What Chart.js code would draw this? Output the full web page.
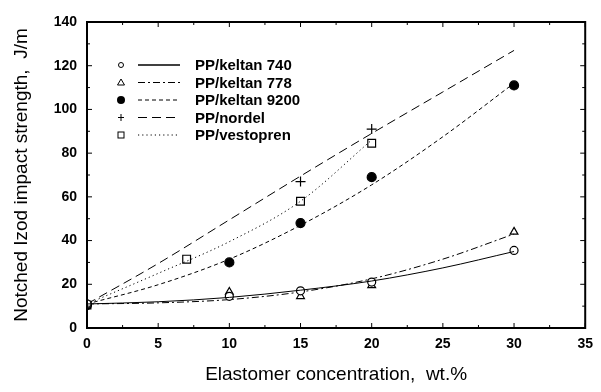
<!DOCTYPE html>
<html>
<head>
<meta charset="utf-8">
<script src="https://cdn.jsdelivr.net/npm/chart.js@4/dist/chart.umd.min.js"></script>
<style>
  body { margin: 0; background: #fff; }
  #wrap { width: 601px; height: 392px; }
</style>
</head>
<body>
<div id="wrap"><canvas id="chart"></canvas></div>
<script>
// fitted curves
const curveX = [0, 5, 10, 15, 20, 25, 30];
const fit740 = [11, 12, 14, 17.3, 21.5, 27.5, 35];
const fit778 = [11, 11.5, 13, 16.5, 22.5, 31.5, 43];
const fit9200 = [11, 19.8, 31.5, 47, 65.5, 87.5, 112];
const fitNordel = [11, 29.5, 49.5, 69.5, 89, 108, 127];
const vestX = [0, 5, 10, 15, 20];
const fitVest = [11, 25, 39.5, 58, 86];

// measured points
const k740X = [0, 10, 15, 20, 30];
const k740Y = [11, 14.5, 17, 21, 35.5];
const k778X = [10, 15, 20, 30];
const k778Y = [16.5, 14.5, 19.5, 44];
const k9200X = [0, 10, 15, 20, 30];
const k9200Y = [10.5, 30, 48, 69, 111];
const nordelX = [15, 20];
const nordelY = [67, 91];
const vestPtX = [0, 7, 15, 20];
const vestPtY = [10.5, 31.5, 58, 84.5];

const xTicks = [0, 5, 10, 15, 20, 25, 30, 35];
const yTicks = [0, 20, 40, 60, 80, 100, 120, 140];

const pts = (xs, ys) => xs.map((x, i) => ({ x: x, y: ys[i] }));

const series = [
  { name: 'PP/keltan 740', marker: 'circle', fill: false, r: 4, dash: [], curve: pts(curveX, fit740), points: pts(k740X, k740Y) },
  { name: 'PP/keltan 778', marker: 'triangle', fill: false, r: 4.5, dash: [7, 3, 2, 3], curve: pts(curveX, fit778), points: pts(k778X, k778Y) },
  { name: 'PP/keltan 9200', marker: 'circle', fill: true, r: 4.5, dash: [4, 3], curve: pts(curveX, fit9200), points: pts(k9200X, k9200Y) },
  { name: 'PP/nordel', marker: 'cross', fill: false, r: 5, dash: [9, 5], curve: pts(curveX, fitNordel), points: pts(nordelX, nordelY) },
  { name: 'PP/vestopren', marker: 'rect', fill: false, r: 5.5, dash: [1.2, 3], curve: pts(vestX, fitVest), points: pts(vestPtX, vestPtY) }
];

const datasets = [];
series.forEach(s => {
  datasets.push({
    type: 'line', data: s.curve, borderColor: '#000', borderWidth: 1,
    borderDash: s.dash, pointRadius: 0, cubicInterpolationMode: 'monotone', fill: false
  });
  datasets.push({
    type: 'scatter', data: s.points, pointStyle: s.marker, pointRadius: s.r,
    pointBackgroundColor: s.fill ? '#000' : '#fff',
    pointBorderColor: '#000', pointBorderWidth: 1.2
  });
});

// frame, inward ticks and the legend box
const decor = {
  id: 'decor',
  afterDatasetsDraw(chart) {
    const { ctx, chartArea: a, scales: { x, y } } = chart;
    ctx.save();
    ctx.strokeStyle = '#000';
    ctx.lineWidth = 1;
    ctx.setLineDash([]);
    for (let v = 0; v <= 35; v += 2.5) {
      const px = x.getPixelForValue(v);
      const len = v % 5 === 0 ? 5 : 3;
      ctx.beginPath();
      ctx.moveTo(px, a.bottom); ctx.lineTo(px, a.bottom - len);
      ctx.moveTo(px, a.top); ctx.lineTo(px, a.top + len);
      ctx.stroke();
    }
    for (let v = 0; v <= 140; v += 10) {
      const py = y.getPixelForValue(v);
      const len = v % 20 === 0 ? 5 : 3;
      ctx.beginPath();
      ctx.moveTo(a.left, py); ctx.lineTo(a.left + len, py);
      ctx.moveTo(a.right, py); ctx.lineTo(a.right - len, py);
      ctx.stroke();
    }
    ctx.lineWidth = 2;
    ctx.strokeRect(a.left, a.top, a.right - a.left, a.bottom - a.top);

    // legend
    ctx.font = 'bold 15px "Liberation Sans", Arial, sans-serif';
    ctx.textBaseline = 'middle';
    ctx.fillStyle = '#000';
    series.forEach((s, i) => {
      const ly = 65 + i * 17.5;
      const mx = 121;
      ctx.lineWidth = 1;
      ctx.setLineDash([]);
      ctx.beginPath();
      if (s.marker === 'circle') {
        ctx.arc(mx, ly, s.fill ? 4 : 2.5, 0, Math.PI * 2);
        if (s.fill) ctx.fill(); else ctx.stroke();
      } else if (s.marker === 'triangle') {
        ctx.moveTo(mx, ly - 3.5); ctx.lineTo(mx + 3.5, ly + 2.5); ctx.lineTo(mx - 3.5, ly + 2.5); ctx.closePath();
        ctx.stroke();
      } else if (s.marker === 'cross') {
        ctx.moveTo(mx, ly - 3.5); ctx.lineTo(mx, ly + 3.5);
        ctx.moveTo(mx - 3, ly); ctx.lineTo(mx + 3, ly);
        ctx.stroke();
      } else {
        ctx.strokeRect(mx - 3, ly - 3, 6, 6);
      }
      ctx.beginPath();
      ctx.lineWidth = i === 0 ? 1.6 : 1;
      ctx.setLineDash(s.dash);
      ctx.moveTo(138, ly); ctx.lineTo(180, ly);
      ctx.stroke();
      ctx.setLineDash([]);
      ctx.fillText(s.name, 195, ly + 1);
    });
    ctx.restore();
  }
};

new Chart(document.getElementById('chart'), {
  data: { datasets: datasets },
  options: {
    responsive: true,
    maintainAspectRatio: false,
    animation: false,
    layout: { padding: { left: 0, right: 10, top: 22, bottom: 0 } },
    plugins: { legend: { display: false }, tooltip: { enabled: false } },
    scales: {
      x: {
        type: 'linear', min: 0, max: 35,
        afterBuildTicks: ax => { ax.ticks = xTicks.map(v => ({ value: v })); },
        afterFit: ax => { ax.height = 64; },
        grid: { display: false, drawTicks: false },
        border: { display: false },
        ticks: { color: '#000', padding: 8, font: { family: '"Liberation Sans", Arial', size: 14, weight: 'bold' } },
        title: { display: true, text: 'Elastomer concentration,  wt.%', color: '#000', padding: { bottom: 6 },
          font: { family: '"Liberation Sans", Arial', size: 19 } }
      },
      y: {
        type: 'linear', min: 0, max: 140,
        afterBuildTicks: ax => { ax.ticks = yTicks.map(v => ({ value: v })); },
        afterFit: ax => { ax.width = 87; },
        grid: { display: false, drawTicks: false },
        border: { display: false },
        ticks: { color: '#000', padding: 10, font: { family: '"Liberation Sans", Arial', size: 14, weight: 'bold' } },
        title: { display: true, text: 'Notched Izod impact strength,  J/m', color: '#000', padding: { top: 10 },
          font: { family: '"Liberation Sans", Arial', size: 19 } }
      }
    }
  },
  plugins: [decor]
});
</script>
</body>
</html>
